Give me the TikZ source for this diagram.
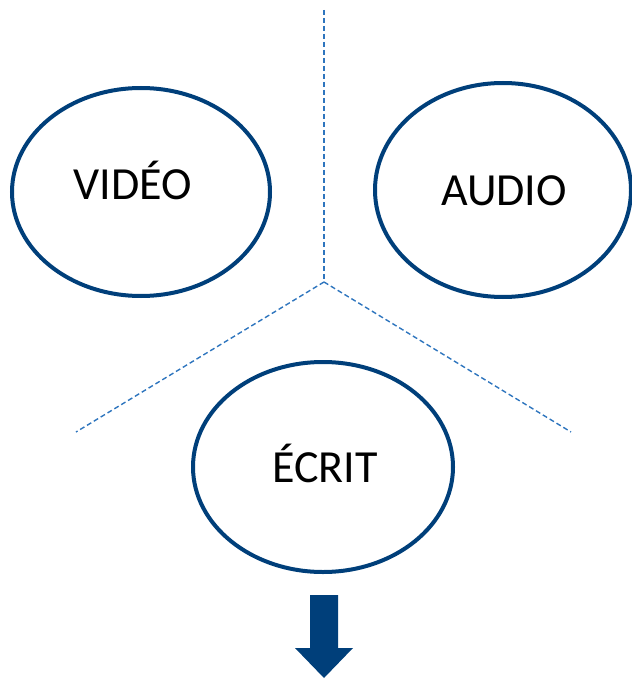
\documentclass[tikz,border=0pt]{standalone}
\usepackage{fontspec}
\setmainfont{Carlito}
\usetikzlibrary{shapes.geometric}
\definecolor{ringblue}{RGB}{0,63,122}
\definecolor{dashblue}{RGB}{46,117,190}
\tikzset{
  ring/.style={draw=ringblue, line width=4pt, ellipse, inner sep=0pt},
  lbl/.style={inner sep=0pt, anchor=base, font=\fontsize{46}{54}\selectfont, text=black},
  divider/.style={draw=dashblue, line width=1.4pt, dash pattern=on 5pt off 3pt},
  bigarrow/.style={fill=ringblue, draw=none}
}
\begin{document}
\begin{tikzpicture}[x=1pt,y=-1pt]
\useasboundingbox (0,0) rectangle (631,679);
% dividers
\coordinate (c) at (324,282);
\coordinate (top) at (324,10);
\coordinate (bl) at (76,432);
\coordinate (br) at (571,432);
\draw[divider] (top) -- (c);
\draw[divider] (c) -- (bl);
\draw[divider] (c) -- (br);
% ellipses
\node[ring, minimum width=258pt, minimum height=208pt] (video) at (141,192) {};
\node[ring, minimum width=256pt, minimum height=214pt] (audio) at (503,190) {};
\node[ring, minimum width=260pt, minimum height=210pt] (ecrit) at (323,467) {};
% labels
\node[lbl] (tvideo) at (133,199) {VIDÉO};
\node[lbl] (taudio) at (504,205) {AUDIO};
\node[lbl] (tecrit) at (325,482) {ÉCRIT};
% arrow
\path[bigarrow] (310,595) -- (338,595) -- (338,648) -- (353,648) -- (324,678) -- (295,648) -- (310,648) -- cycle;
\end{tikzpicture}
\end{document}
